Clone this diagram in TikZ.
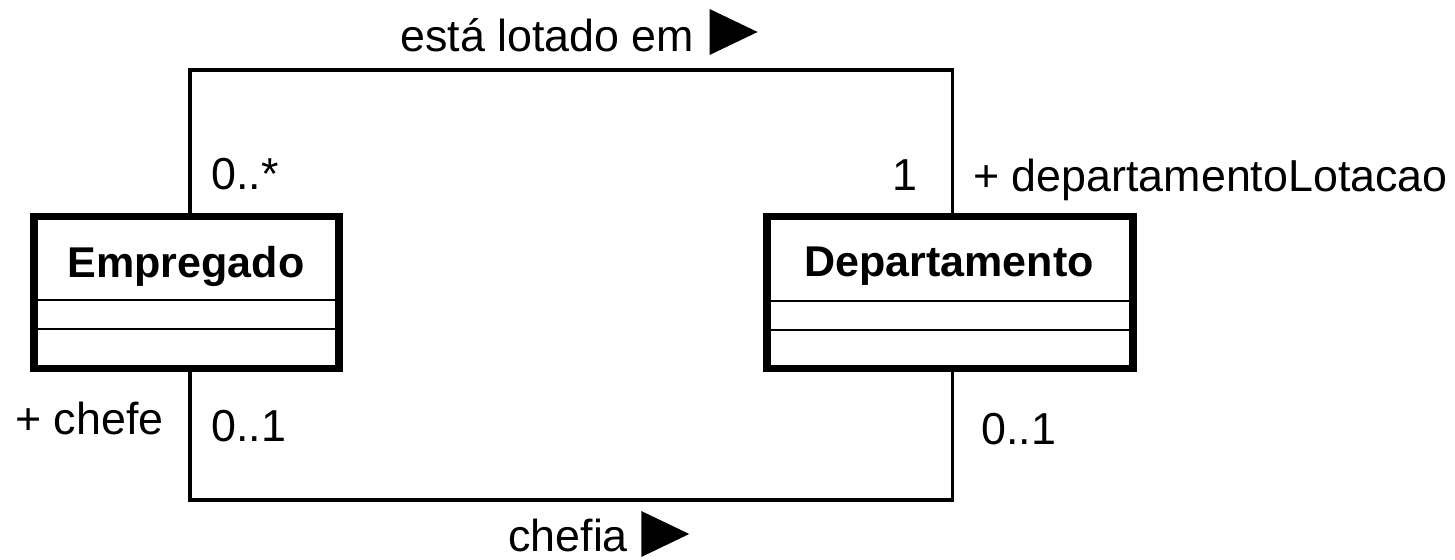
\documentclass[tikz,border=0pt]{standalone}
\usepackage{fontspec}
\setmainfont{Liberation Sans}
\tikzset{
  classbox/.style={draw, line width=4.5pt, fill=white, inner sep=0pt},
  classname/.style={anchor=base, inner sep=0pt, font=\fontsize{24.5}{29}\selectfont\bfseries},
  sep/.style={line width=1.7pt},
  assoc/.style={line width=1.8pt},
  lbl/.style={anchor=base west, inner sep=0pt, font=\fontsize{25.5}{30}\selectfont},
}
\begin{document}
\begin{tikzpicture}[x=0.02cm, y=-0.02cm]
    \useasboundingbox (0,0) rectangle (1455,560);
    \def\triW{48}
    \def\triH{46}

    \coordinate (topL) at (190,70);
    \coordinate (topR) at (952.5,70);
    \coordinate (botL) at (190,500);
    \coordinate (botR) at (952.5,500);

    \node[classbox, minimum width=6.1cm, minimum height=3.04cm] (emp) at (186.5,292.5) {};
    \node[classbox, minimum width=7.32cm, minimum height=3.04cm] (dep) at (950,292.5) {};

    \node[classname] (empName) at (186,278) {Empregado};
    \node[classname] (depName) at (949,277) {Departamento};
    \draw[sep] (emp.west |- 0,300) -- (emp.east |- 0,300);
    \draw[sep] (emp.west |- 0,329) -- (emp.east |- 0,329);
    \draw[sep] (dep.west |- 0,301) -- (dep.east |- 0,301);
    \draw[sep] (dep.west |- 0,330) -- (dep.east |- 0,330);

    \draw[assoc] (emp.north -| topL) -- (topL) -- (topR) -- (dep.north -| topR);
    \draw[assoc] (emp.south -| botL) -- (botL) -- (botR) -- (dep.south -| botR);

    \node[lbl] (lotado) at (400,52) {está lotado em};
    \fill (lotado.base east) ++(15,3) -- ++(\triW,-\triH/2) -- ++(-\triW,-\triH/2) -- cycle;
    \node[lbl] (chefia) at (508,552) {chefia};
    \fill (chefia.base east) ++(13,5) -- ++(\triW,-\triH/2) -- ++(-\triW,-\triH/2) -- cycle;

    \node[lbl] (multEmpTop) at (211,190) {0..*};
    \node[lbl] (multDepTop) at (892,191) {1};
    \node[lbl] (roleDep) at (973,192) {+ departamentoLotacao};
    \node[lbl] (roleChefe) at (15,435) {+ chefe};
    \node[lbl] (multEmpBot) at (211,442) {0..1};
    \node[lbl] (multDepBot) at (981,445) {0..1};
\end{tikzpicture}
\end{document}
